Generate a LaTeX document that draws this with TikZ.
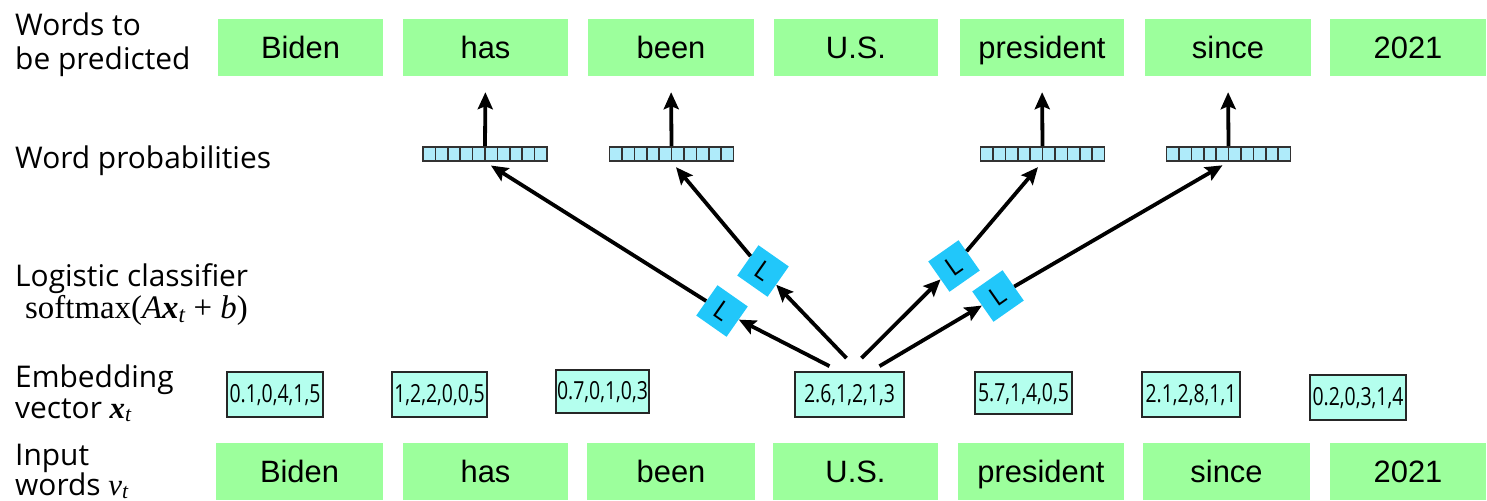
\documentclass[tikz,border=0pt]{standalone}
\usepackage{fontspec}
\usetikzlibrary{arrows.meta,calc}
\newfontfamily\labelfont{Open Sans}
\newfontfamily\numfont[FakeStretch=0.78]{Open Sans}
\newfontfamily\wordfont{Liberation Sans}
\newfontfamily\formfont{Liberation Serif}
\newcommand{\sym}[1]{{\formfont\itshape #1}}
\newcommand{\bsym}[1]{{\formfont\bfseries\itshape #1}}
\newcommand{\sub}[1]{\textsubscript{\formfont\itshape #1}}
\definecolor{wgreen}{RGB}{156,255,156}
\definecolor{embfill}{RGB}{180,255,238}
\definecolor{probfill}{RGB}{175,235,250}
\definecolor{lblue}{RGB}{33,199,250}
\definecolor{cellline}{RGB}{50,50,50}
\tikzset{
  wordbox/.style={fill=wgreen, inner sep=0pt, minimum height=57bp,
    font=\wordfont\fontsize{31}{31}\selectfont, text height=22bp, text depth=0pt},
  embbox/.style={draw=black!85, line width=1.7bp, fill=embfill, inner sep=0pt,
    font=\numfont\fontsize{25}{25}\selectfont, text height=18bp, text depth=2bp},
  probbar/.style={draw=cellline, line width=1.6bp, fill=probfill, inner sep=0pt,
    minimum width=124bp, minimum height=14bp,
    path picture={\foreach \i in {1,...,9}{
      \draw[cellline, line width=1.6bp]
        ($(path picture bounding box.south west)!\i/10!(path picture bounding box.south east)$) --
        ($(path picture bounding box.north west)!\i/10!(path picture bounding box.north east)$);}}},
  lbox/.style={fill=lblue, inner sep=0pt, minimum width=37bp, minimum height=37bp,
    font=\labelfont\fontsize{26}{26}\selectfont},
  rowlabel/.style={anchor=base west, align=left, inner sep=0pt},
  arr/.style={line width=3.8bp, -{Stealth[length=17bp, width=15bp, inset=3bp]}},
}
\begin{document}
\begin{tikzpicture}[x=1bp, y=-1bp]
\useasboundingbox (0,0) rectangle (1487,501);

% row labels (placed by the baseline of their last line)
\node[rowlabel, font=\labelfont\fontsize{30}{35}\selectfont] (lab1) at (15,70) {Words to\\be predicted};
\node[rowlabel, font=\labelfont\fontsize{30}{35}\selectfont] (lab2) at (15,169) {Word probabilities};
\node[rowlabel, font=\labelfont\fontsize{30}{28}\selectfont] (lab3) at (15,318)
  {Logistic classifier\\\hspace*{10bp}{\formfont\fontsize{33}{28}\selectfont softmax(\sym{A}\bsym{x}\sub{t} + \sym{b})}};
\node[rowlabel, font=\labelfont\fontsize{30}{31}\selectfont] (lab4) at (15,418) {Embedding\\vector {\fontsize{31}{31}\bsym{x}\sub{t}}};
\node[rowlabel, font=\labelfont\fontsize{30}{30}\selectfont] (lab5) at (15,495) {Input\\words {\fontsize{31}{30}\sym{v}\sub{t}}};

% words to be predicted
\node[wordbox, minimum width=165bp] (t1) at (300.5,47.5) {Biden};
\node[wordbox, minimum width=165bp] (t2) at (485.5,47.5) {has};
\node[wordbox, minimum width=166bp] (t3) at (671,47.5) {been};
\node[wordbox, minimum width=164bp] (t4) at (856,47.5) {U.S.};
\node[wordbox, minimum width=164bp] (t5) at (1042,47.5) {president};
\node[wordbox, minimum width=166bp] (t6) at (1228,47.5) {since};
\node[wordbox, minimum width=156bp] (t7) at (1408,47.5) {2021};

% input words
\node[wordbox, minimum width=167bp] (w1) at (299.5,471) {Biden};
\node[wordbox, minimum width=165bp] (w2) at (485.5,471) {has};
\node[wordbox, minimum width=168bp] (w3) at (671,471) {been};
\node[wordbox, minimum width=165bp] (w4) at (855.5,471) {U.S.};
\node[wordbox, minimum width=166bp] (w5) at (1041,471) {president};
\node[wordbox, minimum width=167bp] (w6) at (1226.5,471) {since};
\node[wordbox, minimum width=156bp] (w7) at (1408,471) {2021};

% embedding vectors
\node[embbox, minimum width=96bp, minimum height=45bp] (e1) at (275,394.5) {0.1,0,4,1,5};
\node[embbox, minimum width=95bp, minimum height=45bp] (e2) at (439.5,394.5) {1,2,2,0,0,5};
\node[embbox, minimum width=93bp, minimum height=43bp] (e3) at (602.5,391.5) {0.7,0,1,0,3};
\node[embbox, minimum width=109bp, minimum height=45bp] (e4) at (849.5,394.5) {2.6,1,2,1,3};
\node[embbox, minimum width=97bp, minimum height=42bp] (e5) at (1023.5,393) {5.7,1,4,0,5};
\node[embbox, minimum width=98bp, minimum height=45bp] (e6) at (1191,394.5) {2.1,2,8,1,1};
\node[embbox, minimum width=96bp, minimum height=45bp] (e7) at (1358,397.5) {0.2,0,3,1,4};

% word probability vectors
\node[probbar] (p1) at (485,154) {};
\node[probbar] (p2) at (671.5,154) {};
\node[probbar] (p3) at (1042.5,154) {};
\node[probbar] (p4) at (1228.5,154) {};

% logistic classifiers
\node[lbox, rotate=-35] (L1) at (722,311) {L};
\node[lbox, rotate=-35] (L2) at (763,271) {L};
\node[lbox, rotate=35] (L3) at (954,266) {L};
\node[lbox, rotate=35] (L4) at (998,296) {L};

% arrow origins above the centre embedding
\coordinate (s1) at ([shift={(-20,-5)}]e4.north);
\coordinate (s2) at ([shift={(-3,-13)}]e4.north);
\coordinate (s3) at ([shift={(12,-13)}]e4.north);
\coordinate (s4) at ([shift={(30,-5)}]e4.north);

\draw[arr] (s1) -- (L1);
\draw[arr] (s2) -- (L2);
\draw[arr] (s3) -- (L3);
\draw[arr] (s4) -- (L4);

\draw[arr, shorten >=7bp] (L1) -- (p1.south);
\draw[arr, shorten >=7bp] (L2) -- (p2.south);
\draw[arr, shorten >=7bp] (L3) -- (p3.south);
\draw[arr, shorten >=7bp] (L4) -- (p4.south);

\draw[arr, shorten >=16bp] (p1.north) -- (t2.south);
\draw[arr, shorten >=16bp] (p2.north) -- (t3.south);
\draw[arr, shorten >=16bp] (p3.north) -- (t5.south);
\draw[arr, shorten >=16bp] (p4.north) -- (t6.south);
\end{tikzpicture}
\end{document}
